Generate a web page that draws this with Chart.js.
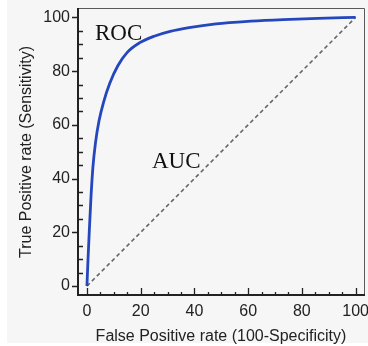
<!DOCTYPE html>
<html>
<head>
<meta charset="utf-8">
<script src="https://cdn.jsdelivr.net/npm/chart.js@4.4.0/dist/chart.umd.min.js"></script>
<style>
  html, body { margin: 0; padding: 0; background: #fff; }
  #wrap { position: relative; width: 368px; height: 346px; }
  #panel { position: absolute; left: 7px; top: 0; width: 361px; height: 343px; background: #f6f6f6; }
  #rocChart { position: absolute; left: 0; top: 0; }
</style>
</head>
<body>
<div id="wrap">
  <div id="panel"></div>
  <canvas id="rocChart" width="368" height="346"></canvas>
</div>
<script>
// ROC curve
const fpr = [0, 0.4, 0.9, 1.5, 2.2, 3.2, 4.5, 6.2, 8.5, 11.5, 15, 19.5, 25, 31, 38, 48, 61, 73, 86, 100];
const tpr = [0, 10, 21, 33, 44, 53.5, 61.5, 68.5, 75.5, 82, 87, 90.5, 93, 94.8, 96.2, 97.6, 98.6, 99.2, 99.65, 100];
const chanceX = [0, 100];
const chanceY = [0, 100];
const tickLabels = [0, 20, 40, 60, 80, 100];
const minorTicks = [5, 10, 15, 25, 30, 35, 45, 50, 55, 65, 70, 75, 85, 90, 95];

const notes = [
    { text: 'ROC', x: 3, y: 91.5 },
    { text: 'AUC', x: 24.2, y: 44.1 }
];

Chart.defaults.font.family = "'Liberation Sans', Arial, sans-serif";

// no extra room for half-labels, the plot box is fixed
function noPad(s) {
    s.paddingTop = 0; s.paddingBottom = 0; s.paddingLeft = 0; s.paddingRight = 0;
}

// frame, inner ticks and the two serif labels
const framePlugin = {
    id: 'frame',
    afterDraw(chart) {
        const { ctx, chartArea: a, scales: { x, y } } = chart;
        ctx.save();
        // light top/right border
        ctx.strokeStyle = '#5a5a5a';
        ctx.lineWidth = 1;
        ctx.beginPath();
        ctx.moveTo(a.left, a.top + 0.5);
        ctx.lineTo(a.right - 0.5, a.top + 0.5);
        ctx.lineTo(a.right - 0.5, a.bottom);
        ctx.stroke();
        // axes
        ctx.strokeStyle = '#222';
        ctx.lineWidth = 2;
        ctx.beginPath();
        ctx.moveTo(a.left + 1, a.top);
        ctx.lineTo(a.left + 1, a.bottom - 1);
        ctx.lineTo(a.right, a.bottom - 1);
        ctx.stroke();

        ctx.lineWidth = 1.3;
        ctx.beginPath();
        minorTicks.forEach(v => {
            const py = Math.round(y.getPixelForValue(v)) + 0.5;
            ctx.moveTo(a.left, py); ctx.lineTo(a.left + 6, py);
            const px = Math.round(x.getPixelForValue(v)) + 0.5;
            ctx.moveTo(px, a.bottom); ctx.lineTo(px, a.bottom - 4);
        });
        tickLabels.forEach(v => {
            const py = Math.round(y.getPixelForValue(v)) + 0.5;
            ctx.moveTo(a.left - 5, py); ctx.lineTo(a.left, py);
            const px = Math.round(x.getPixelForValue(v)) + 0.5;
            ctx.moveTo(px, a.bottom); ctx.lineTo(px, a.bottom - 8);
        });
        ctx.stroke();

        ctx.fillStyle = '#111';
        ctx.font = "23px 'Liberation Serif', 'Times New Roman', serif";
        ctx.textAlign = 'left';
        ctx.textBaseline = 'alphabetic';
        notes.forEach(n => ctx.fillText(n.text, x.getPixelForValue(n.x), y.getPixelForValue(n.y)));
        ctx.restore();
    }
};

const ctx = document.getElementById('rocChart').getContext('2d');
const rocChart = new Chart(ctx, {
    type: 'scatter',
    data: {
        datasets: [{
            label: 'ROC',
            data: fpr.map((v, i) => ({ x: v, y: tpr[i] })),
            showLine: true,
            borderColor: '#2547bd',
            borderWidth: 2.8,
            pointRadius: 0,
            cubicInterpolationMode: 'monotone'
        }, {
            label: 'AUC',
            data: chanceX.map((v, i) => ({ x: v, y: chanceY[i] })),
            showLine: true,
            borderColor: '#666',
            borderWidth: 1.6,
            borderDash: [4, 3],
            pointRadius: 0
        }]
    },
    options: {
        responsive: false,
        animation: false,
        layout: { padding: { top: 8, right: 3, left: 0, bottom: 0 } },
        plugins: { legend: { display: false }, tooltip: { enabled: false } },
        scales: {
            x: {
                type: 'linear',
                min: -3.7,
                max: 103.5,
                grid: { display: false, drawTicks: false },
                border: { display: false },
                afterBuildTicks: s => { s.ticks = tickLabels.map(v => ({ value: v })); },
                afterFit: s => { s.height = 50; noPad(s); },
                ticks: { padding: 6, color: '#222', font: { size: 16 }, maxRotation: 0 },
                title: {
                    display: true,
                    text: 'False Positive rate (100-Specificity)',
                    color: '#222',
                    font: { size: 16 },
                    padding: { top: 0, bottom: 0 }
                }
            },
            y: {
                type: 'linear',
                min: -3.7,
                max: 103.5,
                grid: { display: false, drawTicks: false },
                border: { display: false },
                afterBuildTicks: s => { s.ticks = tickLabels.map(v => ({ value: v })); },
                afterFit: s => { s.width = 77; noPad(s); },
                ticks: { padding: 7, color: '#222', font: { size: 16 } },
                title: {
                    display: true,
                    text: 'True Positive rate (Sensitivity)',
                    color: '#222',
                    font: { size: 16 },
                    padding: { top: 17, bottom: 0 }
                }
            }
        }
    },
    plugins: [framePlugin]
});
</script>
</body>
</html>
